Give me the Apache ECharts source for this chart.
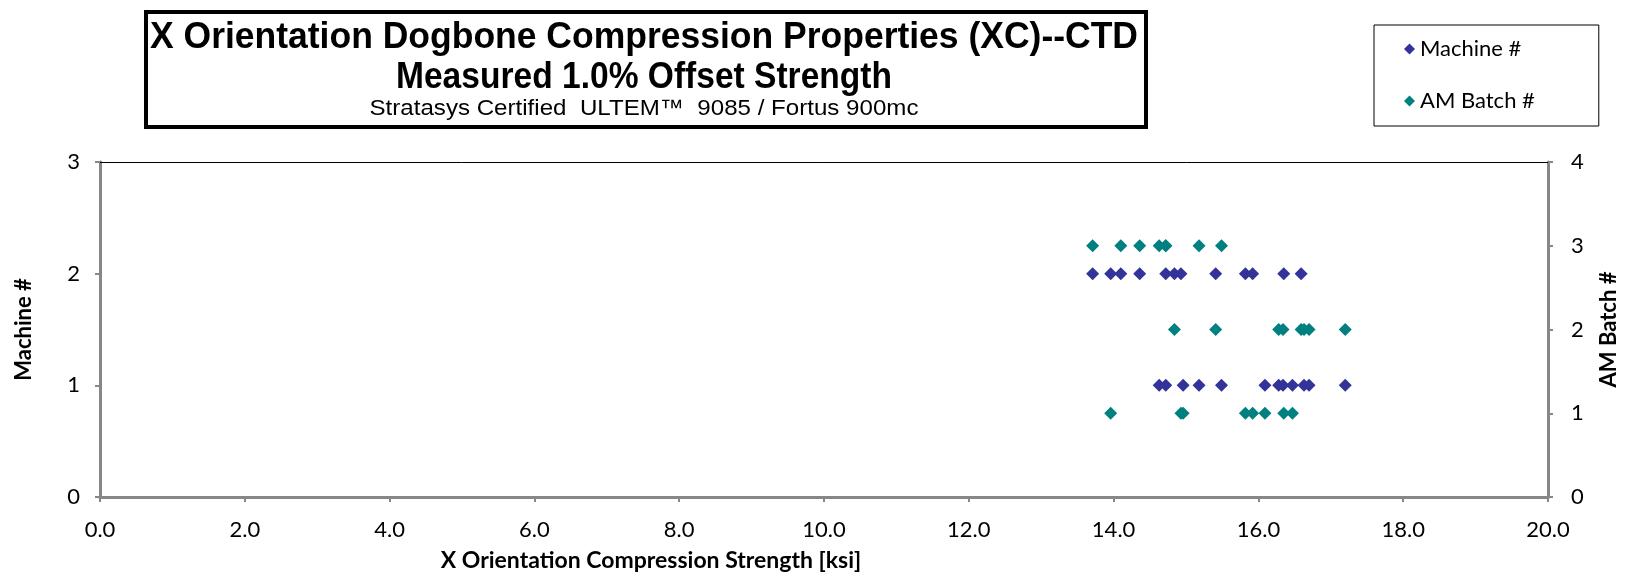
<!DOCTYPE html>
<html><head><meta charset="utf-8">
<script src="https://cdn.jsdelivr.net/npm/echarts@6/dist/echarts.min.js"></script>
<style>html,body{margin:0;padding:0;background:#fff}#c{width:1630px;height:579px}</style>
</head><body><div id="c"></div>
<script>
var titleLines = ['X Orientation Dogbone Compression Properties (XC)--CTD', 'Measured 1.0% Offset Strength'];
var subTitle = 'Stratasys Certified  ULTEM\u2122  9085 / Fortus 900mc';
var xTicks = [0, 20, 2];
var machine1Strength = [14.63, 14.72, 14.96, 15.18, 15.49, 16.09, 16.28, 16.34, 16.47, 16.63, 16.70, 17.20];
var machine2Strength = [13.71, 13.96, 14.10, 14.36, 14.72, 14.84, 14.93, 15.41, 15.82, 15.92, 16.35, 16.59];
var batch1Strength = [13.96, 14.93, 14.96, 15.82, 15.92, 16.09, 16.35, 16.47];
var batch2Strength = [14.84, 15.41, 16.28, 16.34, 16.59, 16.63, 16.70, 17.20];
var batch3Strength = [13.71, 14.10, 14.36, 14.63, 14.72, 14.72, 15.18, 15.49];

function pts(xs, y) { return xs.map(function (x) { return [x, y]; }); }
var machineData = pts(machine1Strength, 1).concat(pts(machine2Strength, 2));
var batchData = pts(batch1Strength, 1).concat(pts(batch2Strength, 2), pts(batch3Strength, 3));

var gray = '#878787';
var lblFont = 'Lato, "Open Sans", sans-serif';
var titleFont = '"Liberation Sans", Arial, sans-serif';

// horizontal condensing to mimic a narrow typeface
var ctx = document.createElement('canvas').getContext('2d');
function fitScale(text, font, target) { ctx.font = font; return target / ctx.measureText(text).width; }
var f1 = 'bold 36px ' + titleFont, f3 = '22px ' + titleFont;
var s1 = fitScale(titleLines[0], f1, 988);
var s2 = fitScale(titleLines[1], f1, 496);
var s3 = fitScale(subTitle, f3, 549);

var chart = echarts.init(document.getElementById('c'), null, {renderer: 'canvas'});
chart.setOption({
  animation: false,
  backgroundColor: '#fff',
  grid: {left: 100, right: 82, top: 162, bottom: 82, containLabel: false},
  graphic: [
    {type: 'rect', shape: {x: 146, y: 12, width: 1000, height: 115}, style: {fill: '#fff', stroke: '#000', lineWidth: 4}},
    {type: 'text', x: 644, y: 38, scaleX: s1, style: {text: titleLines[0], font: f1, fill: '#000', align: 'center', verticalAlign: 'middle'}},
    {type: 'text', x: 644, y: 78, scaleX: s2, style: {text: titleLines[1], font: f1, fill: '#000', align: 'center', verticalAlign: 'middle'}},
    {type: 'text', x: 644, y: 109, scaleX: s3, style: {text: subTitle, font: f3, fill: '#000', align: 'center', verticalAlign: 'middle'}}
  ],
  legend: {
    orient: 'vertical', left: 1374, top: 25,
    padding: [11, 64, 12, 30], itemGap: 26,
    itemWidth: 11, itemHeight: 11,
    borderColor: '#000', borderWidth: 1,
    textStyle: {fontFamily: lblFont, fontSize: 22, color: '#000', lineHeight: 26},
    data: [{name: 'Machine #', icon: 'diamond'}, {name: 'AM Batch #', icon: 'diamond'}]
  },
  xAxis: [{
    type: 'value', min: xTicks[0], max: xTicks[1], interval: xTicks[2],
    name: 'X Orientation Compression Strength [ksi]', nameLocation: 'middle', nameGap: 52,
    nameTextStyle: {fontFamily: lblFont, fontWeight: 'bold', fontSize: 23, color: '#000', padding: [0, 346, 0, 0]},
    axisLine: {onZero: false, lineStyle: {color: gray, width: 3}},
    axisTick: {show: true, length: 5, lineStyle: {color: gray, width: 2}},
    axisLabel: {fontFamily: lblFont, fontSize: 22, color: '#000', margin: 22, formatter: function (v) { return v.toFixed(1); }},
    splitLine: {show: false}
  }, {
    type: 'value', position: 'top', min: xTicks[0], max: xTicks[1],
    axisLine: {show: true, onZero: false, lineStyle: {color: '#000', width: 1}},
    axisTick: {show: false}, axisLabel: {show: false}, splitLine: {show: false}
  }],
  yAxis: [{
    type: 'value', min: 0, max: 3, interval: 1, position: 'left',
    name: 'Machine #', nameLocation: 'middle', nameGap: 65, nameRotate: 90,
    nameTextStyle: {fontFamily: lblFont, fontWeight: 'bold', fontSize: 22, color: '#000'},
    axisLine: {show: true, onZero: false, lineStyle: {color: gray, width: 3}},
    axisTick: {show: true, length: 5, lineStyle: {color: gray, width: 2}},
    axisLabel: {fontFamily: lblFont, fontSize: 22, color: '#000', margin: 20},
    splitLine: {show: false}
  }, {
    type: 'value', min: 0, max: 4, interval: 1, position: 'right',
    name: 'AM Batch #', nameLocation: 'middle', nameGap: 50, nameRotate: 90,
    nameTextStyle: {fontFamily: lblFont, fontWeight: 'bold', fontSize: 22, color: '#000'},
    axisLine: {show: true, onZero: false, lineStyle: {color: gray, width: 3}},
    axisTick: {show: true, length: 5, lineStyle: {color: gray, width: 2}},
    axisLabel: {fontFamily: lblFont, fontSize: 22, color: '#000', margin: 23},
    splitLine: {show: false}
  }],
  series: [{
    name: 'Machine #', type: 'scatter', xAxisIndex: 0, yAxisIndex: 0,
    symbol: 'diamond', symbolSize: 13, itemStyle: {color: '#333399', opacity: 1},
    data: machineData
  }, {
    name: 'AM Batch #', type: 'scatter', xAxisIndex: 0, yAxisIndex: 1,
    symbol: 'diamond', symbolSize: 13, itemStyle: {color: '#008080', opacity: 1},
    data: batchData
  }]
});
</script></body></html>
